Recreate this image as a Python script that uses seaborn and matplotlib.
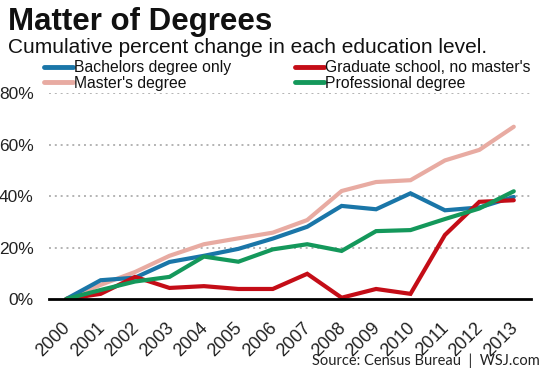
import matplotlib
matplotlib.use("Agg")
import matplotlib.pyplot as plt
import seaborn as sns
import pandas as pd
import numpy as np
from matplotlib.lines import Line2D
from matplotlib.ticker import FixedLocator, PercentFormatter

years = ["2000", "2001", "2002", "2003", "2004", "2005", "2006",
         "2007", "2008", "2009", "2010", "2011", "2012", "2013"]
bachelors = [0, 7.3, 8.3, 14.4, 16.8, 19.5, 23.5, 28.1, 36.2, 34.9, 41.1, 34.5, 35.6, 39.7]
graduate = [0, 2.0, 8.6, 4.3, 5.0, 3.9, 3.9, 9.8, 0.5, 3.9, 2.0, 24.9, 37.8, 38.4]
masters = [0, 5.5, 10.5, 16.8, 21.3, 23.6, 25.8, 30.7, 42.0, 45.5, 46.2, 53.9, 58.0, 67.0]
professional = [0, 3.5, 6.8, 8.6, 16.5, 14.5, 19.3, 21.3, 18.7, 26.4, 26.8, 31.1, 35.2, 41.9]

series_names = ["Bachelors degree only", "Graduate school, no master's",
                "Master's degree", "Professional degree"]
colors = {"Bachelors degree only": "#1a76a8",
          "Graduate school, no master's": "#c40d17",
          "Master's degree": "#e8aba2",
          "Professional degree": "#14985b"}

rows = []
for name, vals in zip(series_names, [bachelors, graduate, masters, professional]):
    for i, (y, v) in enumerate(zip(years, vals)):
        rows.append({"idx": i, "year": y, "value": v, "series": name})
df = pd.DataFrame(rows)

sns.set_theme(style="white")
plt.rcParams['font.family'] = ['Liberation Sans', 'DejaVu Sans']

fig = plt.figure(figsize=(5.53, 3.69), dpi=100)
ax = fig.add_axes([49/553, 1-299/369, (531-49)/553, (299-93.3)/369])

draw_order = ["Master's degree", "Bachelors degree only", "Graduate school, no master's", "Professional degree"]
for name in draw_order:
    sub = df[df["series"] == name]
    sns.lineplot(data=sub, x="idx", y="value", color=colors[name], linewidth=3.0,
                 ax=ax, legend=False, solid_joinstyle="miter")

ax.set_xlim(-0.5, len(years) - 0.5)
ax.set_ylim(0, 80)
ax.set_xlabel("")
ax.set_ylabel("")

ax.set_yticks([0, 20, 40, 60, 80])
ax.yaxis.set_major_formatter(PercentFormatter(decimals=0))
for g in [20, 40, 60, 80]:
    ax.axhline(g, color="#b3b3b3", linestyle=(0, (1, 2)), linewidth=1.4, zorder=0)
ax.tick_params(axis="y", length=0, pad=11, labelsize=12.5, labelcolor="#222222")

ax.set_xticks(np.arange(len(years)))
ax.set_xticklabels(years, rotation=45, ha="right", va="center_baseline", rotation_mode="anchor",
                   fontsize=13, color="#222222")
ax.xaxis.set_minor_locator(FixedLocator(np.arange(-0.5, len(years), 1.0)))
ax.tick_params(axis="x", which="major", length=0, pad=18)
ax.tick_params(axis="x", which="minor", length=5, width=1.8, color="black", direction="out")

for s in ["top", "right", "left"]:
    ax.spines[s].set_visible(False)
ax.spines["bottom"].set_color("black")
ax.spines["bottom"].set_linewidth(2.0)

fig.text(8/553, 1-30/369, "Matter of Degrees", fontsize=22.5, fontweight="bold",
         ha="left", va="baseline", color="#111111")
fig.text(8/553, 1-53/369, "Cumulative percent change in each education level.",
         fontsize=15, ha="left", va="baseline", color="#111111")

handles = [Line2D([0], [0], color=colors[n], linewidth=3.5) for n in series_names]
order = [0, 2, 1, 3]
leg = fig.legend([handles[i] for i in order], [series_names[i] for i in order],
                 ncol=2, loc="upper left", bbox_to_anchor=(44/553, 1-60/369),
                 frameon=False, fontsize=11.3, handlelength=1.85, handletextpad=0.05,
                 columnspacing=4.1, labelspacing=0.05, borderpad=0, borderaxespad=0)
for t in leg.get_texts():
    t.set_color("#111111")

fig.text(540/553, 1-365/369, "Source: Census Bureau  |  WSJ.com", fontsize=10.5,
         ha="right", va="baseline", color="#222222", family=["Lato", "DejaVu Sans"])

fig.savefig("out.png", dpi=100)
